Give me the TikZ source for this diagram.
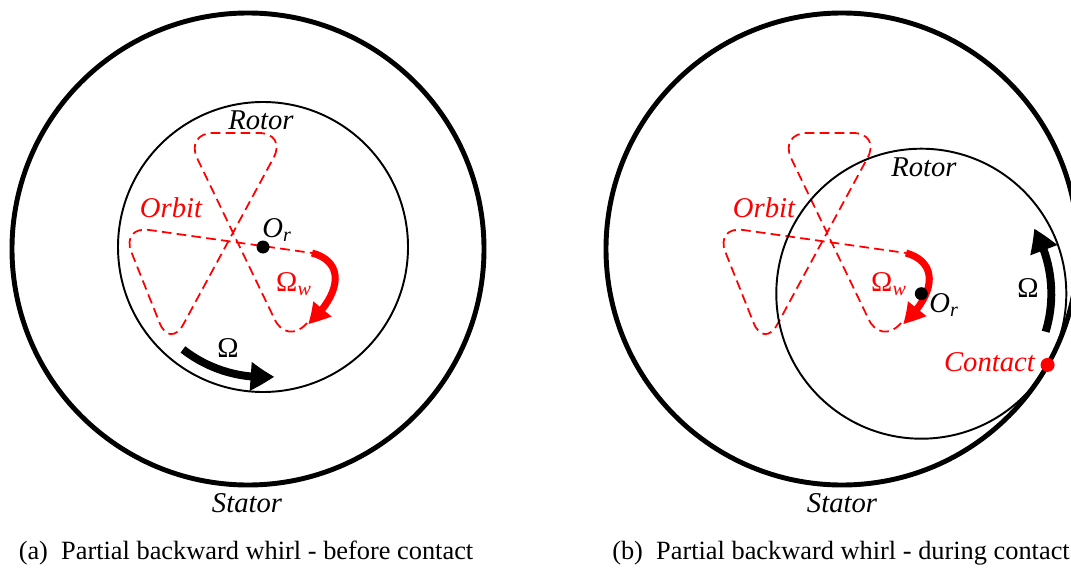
\documentclass[tikz,border=0pt]{standalone}
\usepackage{fontspec}
\setmainfont{Liberation Serif}
\usetikzlibrary{arrows.meta,bending}

\begin{document}
\begin{tikzpicture}[x=0.2mm,y=0.2mm,
stator/.style={line width=2.8pt},
rotor/.style={line width=1.1pt},
orbit/.style={red,line width=1pt,dash pattern=on 5.5pt off 3pt,rounded corners=16pt},
whirl/.style={red,line width=4pt,-{Triangle[length=12pt,width=12.5pt,bend]}},
spin/.style={line width=4.5pt,-{Triangle[length=13.5pt,width=15.5pt,bend]}},
lbl/.style={font=\fontsize{16.3}{19}\selectfont\itshape},
sym/.style={font=\fontsize{16.3}{19}\selectfont},
subcap/.style={font=\fontsize{15}{18}\selectfont}]
\path[use as bounding box,clip](0,0)rectangle(1071,569);
\coordinate(Sa)at(248,320);
\coordinate(Sb)at(842,320);
\coordinate(Ra)at(263,322);
\coordinate(Rb)at(921.3,275.3);
\coordinate(contact)at(1047.6,204.1);
\foreach \sx in {0,594}
\draw[orbit,shift={(\sx,0)}](307,246)--(287,224)--(185,436)--(287,436)--(170,220)--(121,343)--(312,316);
\draw[stator](Sa)circle[radius=236];
\draw[stator](Sb)circle[radius=236];
\draw[rotor](Ra)circle[radius=145];
\draw[rotor](Rb)circle[radius=145];
\draw[whirl](312,316)..controls(346,307)and(341,274)..(308,245);
\draw[whirl](906,316)..controls(938,307)and(937,276)..(903,245);
\draw[spin]([shift={(-128:130)}]Ra)arc[start angle=-128,end angle=-85,radius=130];
\draw[spin]([shift={(-17:130)}]Rb)arc[start angle=-17,end angle=30,radius=130];
\fill(Ra)circle[radius=6.5];
\fill(Rb)circle[radius=6.5];
\fill[red](contact)circle[radius=7];
\node[lbl](rotor-a)at(261,449){Rotor};
\node[lbl](rotor-b)at(924,402){Rotor};
\node[lbl,red](orbit-a)at(171,361){Orbit};
\node[lbl,red](orbit-b)at(764,361){Orbit};
\node[lbl](or-a)at(277,339){O\textsubscript{r}};
\node[lbl](or-b)at(944,264){O\textsubscript{r}};
\node[sym,red](ow-a)at(294,285){Ω\textsubscript{\itshape w}};
\node[sym,red](ow-b)at(889,285){Ω\textsubscript{\itshape w}};
\node[sym](om-a)at(228,221){Ω};
\node[sym](om-b)at(1028,281){Ω};
\node[lbl](stator-a)at(247,66){Stator};
\node[lbl](stator-b)at(842,66){Stator};
\node[lbl,red,anchor=east](contact-lbl)at(1041,207){Contact};
\node[subcap](cap-a)at(246,16){(a)~~Partial backward whirl - before contact};
\node[subcap](cap-b)at(841,16){(b)~~Partial backward whirl - during contact};
\end{tikzpicture}
\end{document}
